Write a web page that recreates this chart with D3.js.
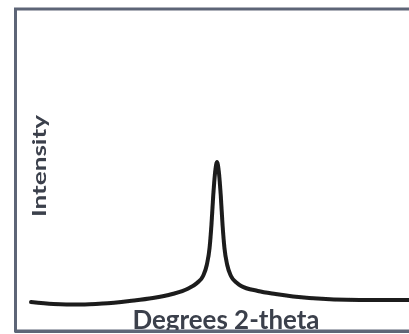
<!DOCTYPE html>
<head>
    <meta charset="utf-8">
    <script src="https://d3js.org/d3.v7.min.js"></script>
    <style>
        body {
            margin: 0;
            background: #ffffff;
            overflow: hidden;
        }

        svg {
            display: block;
        }

        text {
            font-family: Lato, sans-serif;
            font-weight: 700;
            fill: #3b404c;
        }
    </style>
</head>

<body>
    <div id="chart"></div>
    <script>
        const width = 409;
        const height = 334;

        // 2-theta positions (degrees) and intensity
        const twoTheta = [20, 22.4, 25.3, 27.7, 30.6, 33.1, 35.2, 36.8, 37.85, 38.5, 38.9, 39.2, 39.4, 39.6, 39.8, 40,
            40.2, 40.4, 40.6, 40.8, 41.1, 41.5, 42.15, 42.6, 44.4, 46.3, 49.9, 55.3, 60.6];
        const intensity = [2, 0.7, 0.3, 1.0, 2.8, 4.8, 7.6, 11, 15.2, 20, 27.6, 39.3, 55, 75.9, 91.7, 98.6,
            91.7, 75.9, 55, 39.3, 27.6, 20, 15.2, 13.1, 9.7, 7.6, 4.8, 3.4, 3.4];

        const xLabel = 'Degrees 2-theta';
        const yLabel = 'Intensity';

        const data = twoTheta.map((t, i) => ({ t: t, v: intensity[i] }));

        const svg = d3.select('#chart').append('svg')
            .attr('width', width)
            .attr('height', height);

        const defs = svg.append('defs');
        defs.append('filter')
            .attr('id', 'soft')
            .append('feGaussianBlur')
            .attr('stdDeviation', 0.6);

        let x = d3.scaleLinear()
            .domain([20, 60])
            .range([31, 403]);

        let y = d3.scaleLinear()
            .domain([0, 100])
            .range([305, 160]);

        // frame (right side runs off the picture)
        svg.append('rect')
            .attr('x', 15.5)
            .attr('y', 9)
            .attr('width', 430)
            .attr('height', 322)
            .style('fill', 'none')
            .style('stroke', '#5d6577')
            .style('stroke-width', 3)
            .attr('filter', 'url(#soft)');

        const line = d3.line()
            .x(d => x(d.t))
            .y(d => y(d.v))
            .curve(d3.curveMonotoneX);

        svg.append('path')
            .datum(data)
            .attr('d', line)
            .style('fill', 'none')
            .style('stroke', '#1c1c1c')
            .style('stroke-width', 4)
            .style('stroke-linejoin', 'round')
            .style('stroke-linecap', 'round')
            .attr('filter', 'url(#soft)');

        svg.append('text')
            .attr('x', 226)
            .attr('y', 329)
            .style('text-anchor', 'middle')
            .style('font-size', '26px')
            .attr('textLength', 187)
            .attr('lengthAdjust', 'spacingAndGlyphs')
            .attr('filter', 'url(#soft)')
            .text(xLabel);

        svg.append('text')
            .attr('transform', 'translate(46,166) rotate(-90)')
            .style('text-anchor', 'middle')
            .style('font-size', '19px')
            .attr('textLength', 102)
            .attr('lengthAdjust', 'spacingAndGlyphs')
            .attr('filter', 'url(#soft)')
            .text(yLabel);

        // frame bottom drawn over the label, as in the picture
        svg.append('line')
            .attr('x1', 15)
            .attr('x2', width)
            .attr('y1', 331.5)
            .attr('y2', 331.5)
            .style('stroke', '#5d6577')
            .style('stroke-width', 3);
    </script>
</body>
